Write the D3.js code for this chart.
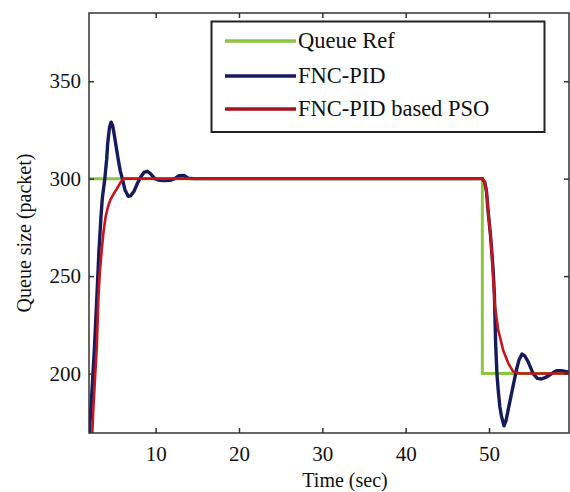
<!DOCTYPE html>
<html>
<head>
<meta charset="utf-8">
<script src="https://cdn.jsdelivr.net/npm/d3@7"></script>
<style>
  html, body { margin: 0; padding: 0; background: #fff; }
  svg { display: block; }
  text { font-family: "Liberation Serif", "Times New Roman", serif; fill: #111; }
</style>
</head>
<body>
<svg id="chart" width="570" height="492"></svg>
<script>
// ---- data ----
const xTicks = [10, 20, 30, 40, 50];
const yTicks = [200, 250, 300, 350];
const seriesNames = ["Queue Ref", "FNC-PID", "FNC-PID based PSO"];

const refT = [2, 49.2, 49.2, 59.6];
const refQ = [300, 300, 200, 200];

const pidT = [2.0, 2.12, 2.33, 2.64, 2.93, 3.2, 3.44, 3.6, 3.9, 4.12, 4.24, 4.45, 4.65, 4.85, 5.05, 5.2, 5.5, 5.75, 6.0, 6.3, 6.7, 7.0, 7.4, 7.8, 8.2, 8.6, 9.0, 9.4, 9.9, 10.4, 11.0, 11.8, 12.3, 12.8, 13.4, 13.9, 14.5,
  49.2, 49.5, 49.7, 49.9, 50.2, 50.5, 50.65, 50.8, 50.95, 51.1, 51.3, 51.5, 51.8, 52.05, 52.3, 52.8, 53.3, 53.6, 53.96, 54.3, 54.7, 55.3, 55.8, 56.3, 56.8, 57.3, 58.1, 58.7, 59.3, 59.6];
const pidQ = [166, 175, 189, 212, 238, 263.5, 280.6, 290, 300, 310, 318, 326, 329, 327, 322, 318, 310, 304, 300, 294.5, 291, 291.2, 293.5, 297.5, 300.8, 303.2, 303.8, 302.5, 300, 299.2, 299, 299.2, 300, 301.5, 301.6, 300.2, 300,
  300, 298, 293.5, 283, 270, 253, 240, 215, 200, 191.7, 183, 178, 173.2, 176, 181.4, 191.7, 202, 207, 210, 209, 206, 200, 197.5, 197.2, 198, 199.4, 201.5, 201.5, 201, 200.6];

const psoT = [2.35, 2.5, 2.75, 2.95, 3.12, 3.3, 3.53, 3.75, 4.0, 4.3, 4.6, 5.0, 5.3, 5.7, 6.1, 7.0, 49.2,
  49.5, 49.7, 49.9, 50.2, 50.35, 50.5, 50.7, 51.1, 51.7, 52.3, 52.9, 53.7, 59.6];
const psoQ = [165, 180, 200, 215, 238, 252, 263.5, 273, 280.6, 286, 289.5, 292.5, 294.5, 297.5, 300, 300, 300,
  298, 293.5, 283, 270, 261, 250, 235, 222.5, 212, 205.4, 201, 200, 200];

// ---- layout ----
const svg = d3.select("#chart");
const x = d3.scaleLinear().domain([2, 59.6]).range([89, 569]);
const y = d3.scaleLinear().domain([169.5, 385]).range([433, 13]);
const frame = "#333";

svg.append("defs").append("clipPath").attr("id", "clip")
  .append("rect").attr("x", 89).attr("y", 13).attr("width", 480).attr("height", 420);

const zip = (ts, qs) => ts.map((t, i) => [t, qs[i]]);
const line = d3.line().x(d => x(d[0])).y(d => y(d[1]));

const g = svg.append("g").attr("clip-path", "url(#clip)");
g.append("path").datum(zip(refT, refQ)).attr("d", line)
  .attr("fill", "none").attr("stroke", "#8cc63f").attr("stroke-width", 3);
g.append("path").datum(zip(pidT, pidQ)).attr("d", line)
  .attr("fill", "none").attr("stroke", "#161b5c").attr("stroke-width", 3.4).attr("stroke-linejoin", "round");
g.append("path").datum(zip(psoT, psoQ)).attr("d", line)
  .attr("fill", "none").attr("stroke", "#c8141c").attr("stroke-width", 2.6).attr("stroke-linejoin", "round");

// axes (inward ticks, mirrored on top/right)
const axB = d3.axisBottom(x).tickValues(xTicks).tickSize(-5).tickPadding(13).tickFormat(d3.format("d"));
const axT = d3.axisTop(x).tickValues(xTicks).tickSize(-5).tickFormat("");
const axL = d3.axisLeft(y).tickValues(yTicks).tickSize(-5).tickPadding(8).tickFormat(d3.format("d"));
const axR = d3.axisRight(y).tickValues(yTicks).tickSize(-5).tickFormat("");

function style(sel) {
  sel.select(".domain").remove();
  sel.selectAll(".tick line").attr("stroke", frame).attr("stroke-width", 1.5);
  sel.selectAll(".tick text").attr("font-size", 21).attr("fill", "#111")
    .style("font-family", "'Liberation Serif','Times New Roman',serif");
}
svg.append("g").attr("transform", "translate(0,433)").call(axB).call(style);
svg.append("g").attr("transform", "translate(0,13)").call(axT).call(style);
svg.append("g").attr("transform", "translate(89,0)").call(axL).call(style);
svg.append("g").attr("transform", "translate(569,0)").call(axR).call(style);

svg.append("rect").attr("x", 89).attr("y", 13).attr("width", 480).attr("height", 420)
  .attr("fill", "none").attr("stroke", frame).attr("stroke-width", 1.5);

// axis titles
svg.append("text").attr("x", 345).attr("y", 487).attr("text-anchor", "middle")
  .attr("font-size", 20).text("Time (sec)");
svg.append("text").attr("transform", "translate(31,233) rotate(-90)").attr("text-anchor", "middle")
  .attr("font-size", 20).text("Queue size (packet)");

// legend
const legend = svg.append("g");
legend.append("rect").attr("x", 211.5).attr("y", 21.5).attr("width", 333).attr("height", 110.5)
  .attr("fill", "#fff").attr("stroke", "#222").attr("stroke-width", 2);
const legColors = ["#8cc63f", "#161b5c", "#a8101a"];
const legY = [41, 76, 109];
seriesNames.forEach((name, i) => {
  legend.append("line").attr("x1", 225).attr("x2", 296).attr("y1", legY[i]).attr("y2", legY[i])
    .attr("stroke", legColors[i]).attr("stroke-width", 3.5);
  legend.append("text").attr("x", 298).attr("y", legY[i] + 7).attr("font-size", 22.5).text(name);
});
</script>
</body>
</html>
